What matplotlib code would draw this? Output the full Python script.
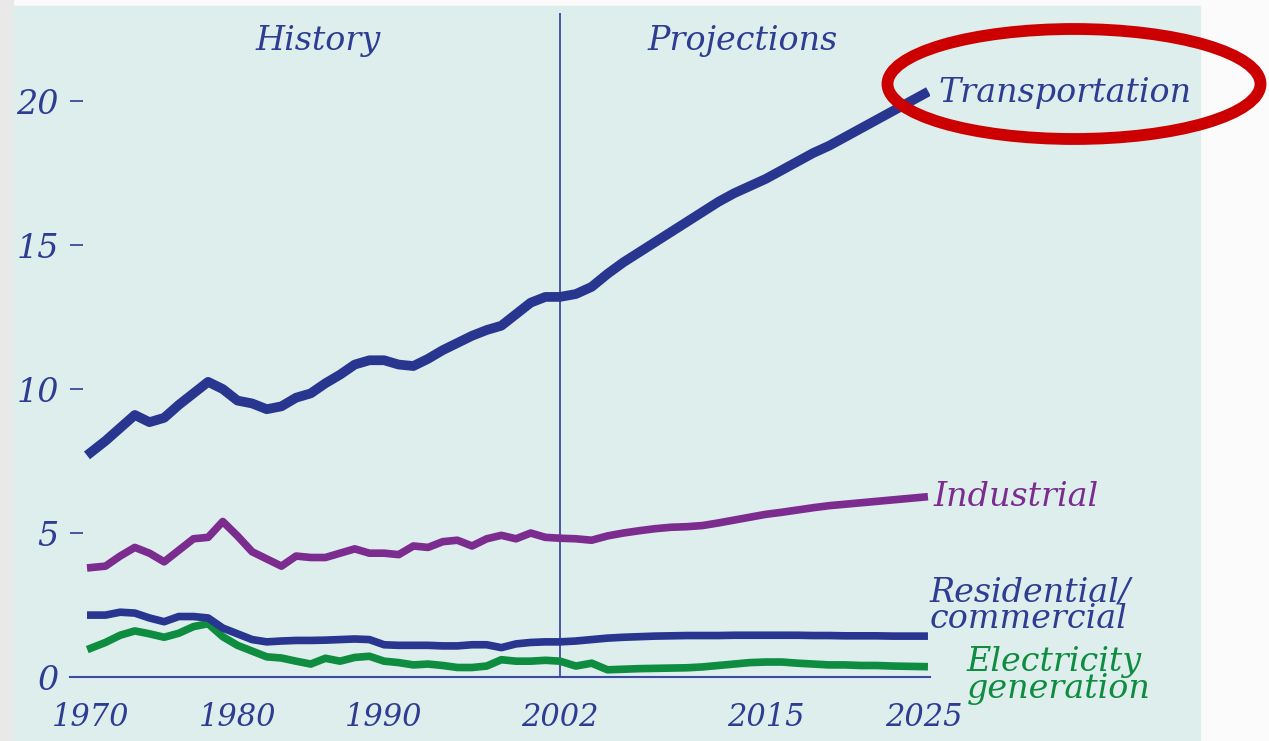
import numpy as np
import matplotlib.pyplot as plt
from matplotlib.patches import Rectangle, Ellipse

# years and series
years = list(range(1970, 2026))

transportation = [7.8, 8.2, 8.65, 9.1, 8.85, 9.0, 9.45, 9.85, 10.25, 10.0,
                  9.6, 9.5, 9.3, 9.4, 9.7, 9.85, 10.2, 10.5, 10.85, 11.0,
                  11.0, 10.85, 10.8, 11.05, 11.35, 11.6, 11.85, 12.05, 12.2, 12.6,
                  13.0, 13.2, 13.2, 13.3, 13.55, 14.0, 14.4, 14.75, 15.1, 15.45,
                  15.8, 16.15, 16.5, 16.8, 17.05, 17.3, 17.6, 17.9, 18.2, 18.45,
                  18.75, 19.05, 19.35, 19.65, 19.95, 20.25]

industrial = [3.8, 3.85, 4.2, 4.5, 4.3, 4.0, 4.4, 4.8, 4.85, 5.4,
              4.9, 4.35, 4.1, 3.85, 4.2, 4.15, 4.15, 4.3, 4.45, 4.3,
              4.3, 4.25, 4.55, 4.5, 4.7, 4.75, 4.55, 4.8, 4.92, 4.8,
              5.0, 4.85, 4.82, 4.8, 4.75, 4.9, 5.0, 5.08, 5.15, 5.2,
              5.22, 5.26, 5.35, 5.45, 5.55, 5.65, 5.72, 5.8, 5.88, 5.95,
              6.0, 6.05, 6.1, 6.15, 6.2, 6.25]

residential = [2.15, 2.15, 2.25, 2.22, 2.05, 1.92, 2.1, 2.1, 2.05, 1.7,
               1.5, 1.3, 1.22, 1.25, 1.27, 1.27, 1.28, 1.3, 1.32, 1.3,
               1.12, 1.1, 1.1, 1.1, 1.08, 1.08, 1.12, 1.12, 1.02, 1.15,
               1.2, 1.22, 1.22, 1.25, 1.3, 1.35, 1.38, 1.4, 1.42, 1.43,
               1.44, 1.44, 1.44, 1.45, 1.45, 1.45, 1.45, 1.45, 1.44, 1.44,
               1.43, 1.43, 1.43, 1.42, 1.42, 1.42]

electricity = [1.0, 1.2, 1.45, 1.6, 1.5, 1.38, 1.52, 1.75, 1.85, 1.4,
               1.1, 0.9, 0.7, 0.66, 0.55, 0.45, 0.65, 0.55, 0.68, 0.72,
               0.55, 0.5, 0.42, 0.45, 0.4, 0.33, 0.33, 0.38, 0.6, 0.55,
               0.55, 0.58, 0.55, 0.38, 0.48, 0.25, 0.27, 0.29, 0.3, 0.31,
               0.32, 0.35, 0.4, 0.45, 0.5, 0.52, 0.52, 0.48, 0.45, 0.42,
               0.42, 0.4, 0.4, 0.38, 0.37, 0.36]

xticks = [1970, 1980, 1990, 2002, 2015, 2025]
yticks = [0, 5, 10, 15, 20]

navy = '#28368f'
purple = '#7b2c8e'
green = '#0e8c3f'
text_navy = '#2e3c92'

serif = 'DejaVu Serif'


# history and projections are drawn at slightly different year widths
def fwd(x):
    x = np.asarray(x, float)
    return np.where(x < 2002, (x - 2002) * 14.66, (x - 2002) * 15.83)


def inv(p):
    p = np.asarray(p, float)
    return np.where(p < 0, p / 14.66 + 2002, p / 15.83 + 2002)


W, H = 1269, 741
fig = plt.figure(figsize=(W / 100, H / 100), dpi=100)
fig.patch.set_facecolor('#fbfbfb')
fig.add_artist(Rectangle((0, 0), 13 / W, 1, transform=fig.transFigure,
                         color='#e9e9e9', zorder=0))
fig.add_artist(Rectangle((13 / W, 0), (1200 - 13) / W, 735 / H,
                         transform=fig.transFigure, color='#ddeeed', zorder=0))

ax = fig.add_axes([70 / W, 64 / H, 860 / W, 664 / H])
ax.patch.set_visible(False)
ax.set_xscale('function', functions=(fwd, inv))
ax.set_xlim(1968.58, 2025.37)
ax.set_ylim(0, 23.06)

ax.plot(years, electricity, color=green, lw=5.5, zorder=3)
ax.plot(years, residential, color=navy, lw=5.5, zorder=4)
ax.plot(years, industrial, color=purple, lw=5.5, zorder=4)
ax.plot(years, transportation, color=navy, lw=7, zorder=5)

ax.axvline(2002, color='#3b4aa3', lw=1.3, zorder=2)

for s in ['top', 'right', 'left']:
    ax.spines[s].set_visible(False)
ax.spines['bottom'].set_color('#3b4aa3')
ax.spines['bottom'].set_linewidth(1.5)

ax.set_xticks(xticks)
ax.set_xticklabels([str(x) for x in xticks])
ax.set_yticks(yticks)
ax.set_yticklabels([str(y) for y in yticks])
ax.tick_params(axis='x', length=0, pad=18, labelsize=22, labelcolor=text_navy)
ax.tick_params(axis='y', direction='in', length=9, width=1.2, color=text_navy,
               pad=8, labelsize=24, labelcolor=text_navy)
for lab in ax.get_xticklabels() + ax.get_yticklabels():
    lab.set_fontfamily(serif)
    lab.set_fontstyle('italic')

tkw = dict(fontfamily=serif, fontstyle='italic', fontsize=24, clip_on=False)
ax.text(1985.5, 22.1, 'History', color=text_navy, ha='center', va='center', **tkw)
ax.text(2013.56, 22.1, 'Projections', color=text_navy, ha='center', va='center', **tkw)
ax.text(2025.9, 20.28, 'Transportation', color=text_navy, ha='left', va='center', **tkw)
ax.text(2025.56, 6.25, 'Industrial', color=purple, ha='left', va='center', **tkw)
ax.text(2025.37, 2.47, 'Residential/\ncommercial', color=text_navy, ha='left',
        va='center', linespacing=0.78, **tkw)
ax.text(2027.7, 0.05, 'Electricity\ngeneration', color=green, ha='left',
        va='center', linespacing=0.8, **tkw)

# red highlight ring around the transportation label
fig.add_artist(Ellipse((1074 / W, 1 - 84 / H), 373 / W, 110 / H,
                       transform=fig.transFigure, fill=False,
                       edgecolor='#cc0000', lw=8.5, zorder=10))

fig.savefig('out.png', dpi=100)
